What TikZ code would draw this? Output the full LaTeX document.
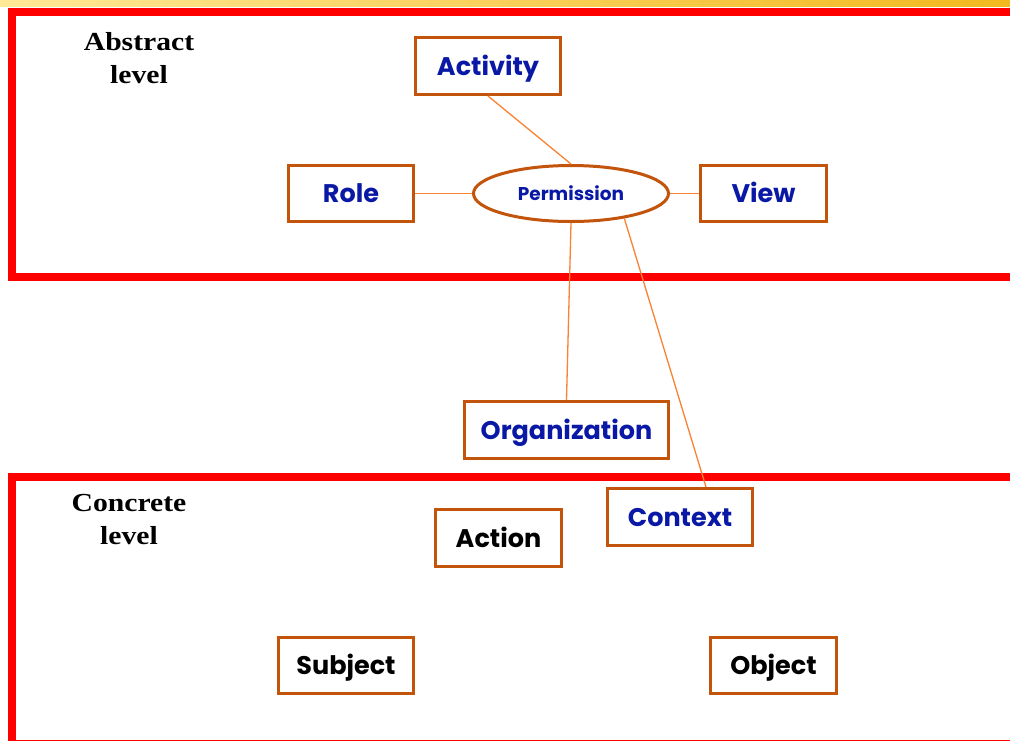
\documentclass[tikz,border=0pt]{standalone}
\usepackage{fontspec}
\usetikzlibrary{shapes.geometric}
\newfontfamily\boxfont{Poppins}
\newfontfamily\levelfont[FakeStretch=1.14]{Liberation Serif}
\definecolor{framered}{RGB}{255,0,0}
\definecolor{boxbrown}{RGB}{195,84,12}
\definecolor{linkorange}{RGB}{250,130,50}
\definecolor{nameblue}{RGB}{10,25,165}
\definecolor{bandlight}{RGB}{255,232,150}
\definecolor{banddark}{RGB}{242,185,30}
\tikzset{
  x=1pt, y=-1pt,
  frame/.style={draw=framered, line width=8pt},
  concept/.style={draw=boxbrown, line width=3pt, fill=white, inner sep=0pt,
    text height=20pt, text depth=2pt,
    font=\boxfont\bfseries\fontsize{25.5}{29}\selectfont, text=nameblue},
  instance/.style={concept, text=black},
  permnode/.style={ellipse, draw=boxbrown, line width=3pt, fill=white, inner sep=0pt,
    minimum width=195pt, minimum height=56pt,
    font=\boxfont\bfseries\fontsize{18.5}{21}\selectfont, text=nameblue},
  link/.style={draw=linkorange, line width=1.3pt},
  levellabel/.style={align=center, font=\levelfont\bfseries\fontsize{26}{33}\selectfont}
}
\begin{document}
\begin{tikzpicture}
\useasboundingbox (0,0) rectangle (1010,740);
\clip (0,0) rectangle (1010,740);
\fill[white] (0,0) rectangle (1010,740);
% title band along the top edge
\shade[left color=bandlight, right color=banddark] (0,0) rectangle (1010,6);

% the two level frames
\draw[frame] (12,12) rectangle (1040,277);
\draw[frame] (12,477) rectangle (1040,744);

\node[levellabel] (abstractlbl) at (139,58) {Abstract\\level};
\node[levellabel] (concretelbl) at (129,520) {Concrete\\level};

% abstract concepts
\node[permnode] (perm) at (571,193.5) {Permission};
\node[concept, minimum width=145pt, minimum height=57pt] (act) at (488,66) {Activity};
\node[concept, minimum width=125pt, minimum height=56pt] (role) at (351,193.5) {Role};
\node[concept, minimum width=126pt, minimum height=56pt] (view) at (763.5,193.5) {View};
\node[concept, minimum width=204pt, minimum height=57pt] (org) at (566.5,430) {Organization};
\node[concept, minimum width=145pt, minimum height=57pt] (ctx) at (680,517) {Context};

% concrete entities
\node[instance, minimum width=126pt, minimum height=57pt] (action) at (498.5,538) {Action};
\node[instance, minimum width=135pt, minimum height=56pt] (subj) at (346,665.5) {Subject};
\node[instance, minimum width=126pt, minimum height=56pt] (obj) at (773.5,665.5) {Object};

% links around the permission
\draw[link] (act.south) -- (perm.north);
\draw[link] (role.east) -- (perm.west);
\draw[link] (perm.east) -- (view.west);
\draw[link] (perm.south) -- (org.north);
\draw[link] (perm.-25) -- ([xshift=26pt]ctx.north);
\end{tikzpicture}
\end{document}
